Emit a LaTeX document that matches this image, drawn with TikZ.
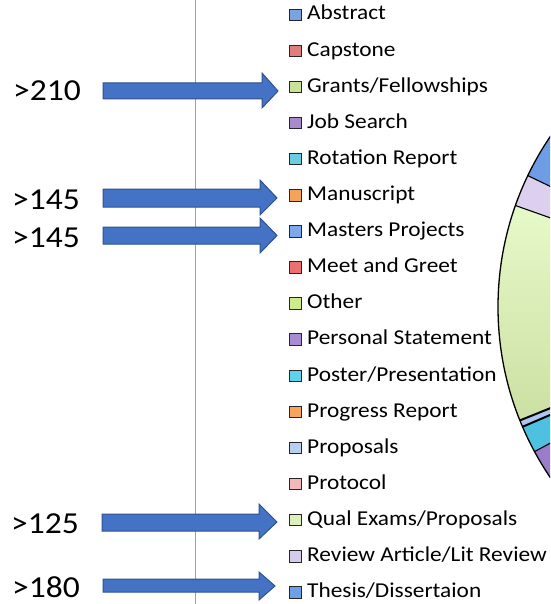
\documentclass[tikz,border=0pt]{standalone}
\usepackage{fontspec}
\setmainfont[FakeStretch=1.1]{Carlito}
\definecolor{arrfill}{HTML}{4472C4}
\definecolor{arrdraw}{HTML}{2F528F}
\definecolor{cAbstract}{HTML}{7BA3DD}
\definecolor{cCapstone}{HTML}{E07E7E}
\definecolor{cGrants}{HTML}{C7E39A}
\definecolor{cJob}{HTML}{A78BCB}
\definecolor{cRotation}{HTML}{6ACCE0}
\definecolor{cManuscript}{HTML}{F5A25B}
\definecolor{cMasters}{HTML}{7BA9EA}
\definecolor{cMeet}{HTML}{EC7070}
\definecolor{cOther}{HTML}{CCEB8A}
\definecolor{cPersonal}{HTML}{A98BD4}
\definecolor{cPoster}{HTML}{5ED2E8}
\definecolor{cProgress}{HTML}{F8A45C}
\definecolor{cProposals}{HTML}{B9CFEF}
\definecolor{cProtocol}{HTML}{F2B9B9}
\definecolor{cQual}{HTML}{DCF0BE}
\definecolor{cReview}{HTML}{D5CBEA}
\definecolor{cThesis}{HTML}{6FA0E6}
\definecolor{pBlue}{HTML}{6E9DE6}
\definecolor{pLav}{HTML}{DCD0EE}
\definecolor{pGreenA}{HTML}{E6F9C9}
\definecolor{pGreenB}{HTML}{CCE0A3}
\definecolor{pLight}{HTML}{AFC6F0}
\definecolor{pCyan}{HTML}{4EC0E0}
\definecolor{pPurple}{HTML}{9A7CCB}
\definecolor{axisgray}{HTML}{A0A0A0}
\tikzset{
  blockarrow/.style={fill=arrfill, draw=arrdraw, line width=1pt, line join=miter},
  legsq/.style={draw=black!85, line width=1pt, minimum width=12pt, minimum height=11.5pt, inner sep=0pt},
  legtext/.style={anchor=base west, inner sep=0pt, font=\fontsize{21.2}{21.2}\selectfont},
  biglabel/.style={anchor=base west, inner sep=0pt, font=\fontsize{30.5}{30.5}\selectfont},
  slice/.style={draw=black, line width=1.1pt, line join=round}
}
\begin{document}
\begin{tikzpicture}[x=1pt,y=-1pt]
\useasboundingbox (0,0) rectangle (550,604);
\begin{scope}
\clip (0,0) rectangle (550,604);
% pie
\coordinate (pc) at (802,307);
\def\R{304}
\fill[pPurple] (pc) -- ++(100:\R) arc[start angle=100, end angle=151.6, radius=\R] -- cycle;
\fill[pCyan] (pc) -- ++(151.6:\R) arc[start angle=151.6, end angle=156.8, radius=\R] -- cycle;
\fill[pLight] (pc) -- ++(156.8:\R) arc[start angle=156.8, end angle=158.1, radius=\R] -- cycle;
\shade[top color=pGreenA, bottom color=pGreenB] (pc) -- ++(158.1:\R) arc[start angle=158.1, end angle=199.5, radius=\R] -- cycle;
\fill[pLav] (pc) -- ++(199.5:\R) arc[start angle=199.5, end angle=205.6, radius=\R] -- cycle;
\fill[pBlue] (pc) -- ++(205.6:\R) arc[start angle=205.6, end angle=262, radius=\R] -- cycle;
\draw[slice, line width=1.3pt] (pc) circle[radius=\R];
\draw[slice] (pc) -- ++(151.6:\R);
\draw[slice, line width=2pt] (pc) -- ++(156.8:\R);
\draw[slice, line width=2pt] (pc) -- ++(158.1:\R);
\draw[slice] (pc) -- ++(199.5:\R);
\draw[slice] (pc) -- ++(205.6:\R);
\end{scope}
% axis line
\coordinate (axtop) at (195,0);
\coordinate (axbot) at (195,604);
\draw[axisgray, line width=1pt] (axtop) -- (axbot);
% legend
\foreach \i/\c/\t in {0/cAbstract/{Abstract}, 1/cCapstone/{Capstone}, 2/cGrants/{Grants/Fellowships}, 3/cJob/{Job Search}, 4/cRotation/{Rotation Report}, 5/cManuscript/{Manuscript}, 6/cMasters/{Masters Projects}, 7/cMeet/{Meet and Greet}, 8/cOther/{Other}, 9/cPersonal/{Personal Statement}, 10/cPoster/{Poster/Presentation}, 11/cProgress/{Progress Report}, 12/cProposals/{Proposals}, 13/cProtocol/{Protocol}, 14/cQual/{Qual Exams/Proposals}, 15/cReview/{Review Article/Lit Review}, 16/cThesis/{Thesis/Dissertaion}}{
  \node[legsq, fill=\c] (sq\i) at (295, 20+36.1*\i-5.2) {};
  \node[legtext] (lt\i) at (307, 20+36.1*\i) {\t};
}
% labels
\node[biglabel] (l210) at (13,101) {>210};
\node[biglabel] (l145a) at (12,209) {>145};
\node[biglabel] (l145b) at (12,247) {>145};
\node[biglabel] (l125) at (11,533) {>125};
\node[biglabel] (l180) at (12,597) {>180};
% arrows
\draw[blockarrow] (103,83) -- (262,83) -- (262,73) -- (278,91) -- (262,108) -- (262,99) -- (103,99) -- cycle;
\draw[blockarrow] (103,189) -- (260,189) -- (260,180) -- (277,198) -- (260,215) -- (260,207) -- (103,207) -- cycle;
\draw[blockarrow] (103,227) -- (260,227) -- (260,218) -- (277,235.5) -- (260,253) -- (260,244) -- (103,244) -- cycle;
\draw[blockarrow] (102,514) -- (259,514) -- (259,504) -- (277,522) -- (259,539) -- (259,531) -- (102,531) -- cycle;
\draw[blockarrow] (103,579) -- (259,579) -- (259,572) -- (275,586) -- (259,600) -- (259,592) -- (103,592) -- cycle;
\end{tikzpicture}
\end{document}
